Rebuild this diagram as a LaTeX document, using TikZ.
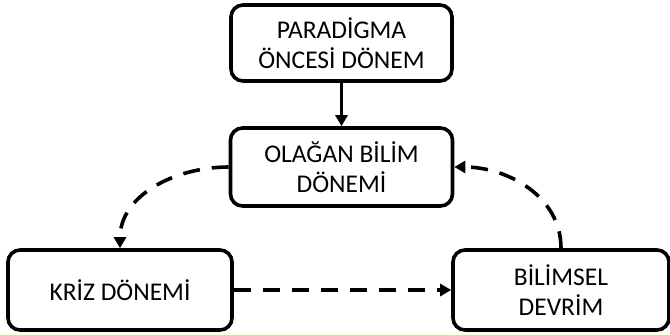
\documentclass[tikz,border=0pt]{standalone}
\usepackage{fontspec}
\setmainfont{Carlito}
\usetikzlibrary{arrows.meta}
\begin{document}
\begin{tikzpicture}[x=1pt,y=-1pt,
  stage/.style={draw=black,line width=3.6pt,rounded corners=12pt,align=center,font=\fontsize{25.5}{30}\selectfont,inner sep=0pt},
  conn/.style={line width=3.6pt,-{Triangle[length=11pt,width=12pt]}},
  dconn/.style={conn,dash pattern=on 17pt off 12pt}]
\useasboundingbox (0,0) rectangle (670,335);
\fill[yellow!8] (0,332) rectangle (670,335);
\node[stage,minimum width=221pt,minimum height=76pt] (pre) at (341.5,43) {PARADİGMA\\ÖNCESİ DÖNEM};
\node[stage,minimum width=222pt,minimum height=78pt] (norm) at (341.5,167) {OLAĞAN BİLİM\\DÖNEMİ};
\node[stage,minimum width=224pt,minimum height=80pt] (kriz) at (120,290) {KRİZ DÖNEMİ};
\node[stage,minimum width=216pt,minimum height=80pt] (dev) at (561,290) {BİLİMSEL\\DEVRİM};
\draw[conn] (pre) -- (norm);
\draw[dconn] (norm.west) to[out=180,in=90] (kriz.north);
\draw[dconn] (kriz.east) -- (dev.west);
\draw[dconn] (dev.north) to[out=90,in=0] (norm.east);
\end{tikzpicture}
\end{document}
